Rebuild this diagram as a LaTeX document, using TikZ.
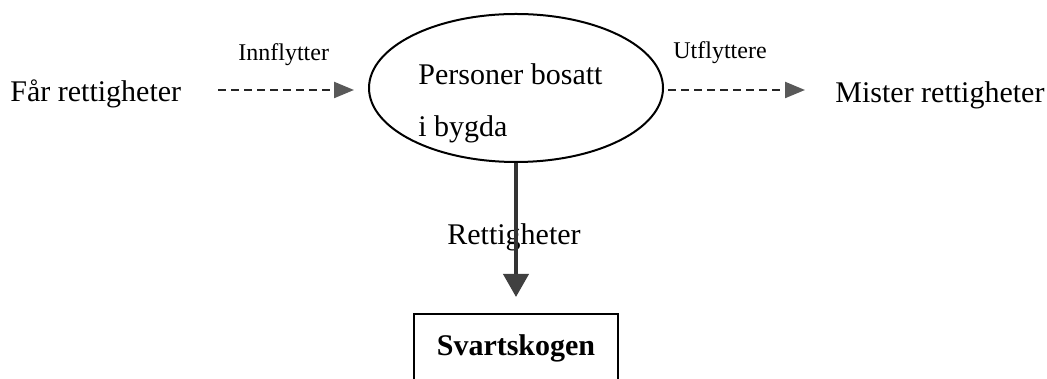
\documentclass[tikz,border=0pt]{standalone}
\usepackage{fontspec}
\setmainfont{Liberation Serif}
\usetikzlibrary{shapes.geometric,arrows.meta}

\begin{document}
\begin{tikzpicture}[x=0.5pt,y=0.5pt,
  txt/.style={font=\fontsize{15}{18}\selectfont,inner sep=0,anchor=base west},
  lbl/.style={font=\fontsize{12}{14}\selectfont,inner sep=0,anchor=base west},
  flow/.style={draw=black!85,line width=1.1pt,dash pattern=on 4pt off 2.5pt,
    -{Triangle[length=10pt,width=8pt,color=black!65]}}]
\clip (0,0) rectangle (1047,379);
% left side
\node[txt] (far) at (10,277) {Får rettigheter};
\node[lbl] (inn) at (238,318) {Innflytter};
\coordinate (innA) at (218,289);
\coordinate (innB) at (354,289);
\draw[flow] (innA) -- (innB);
% the ellipse
\node[draw,ellipse,line width=1pt,minimum width=147pt,minimum height=74pt,inner sep=0] (bygd) at (516,291) {};
\node[txt] (bygdA) at (418,294) {Personer bosatt};
\node[txt] (bygdB) at (418,242) {i bygda};
% right side
\node[lbl] (ut) at (673,320) {Utflyttere};
\coordinate (utA) at (668,289);
\coordinate (utB) at (805,289);
\draw[flow] (utA) -- (utB);
\node[txt] (mister) at (835,276) {Mister rettigheter};
% down to the box
\node[draw,line width=1pt,minimum width=102pt,minimum height=34pt,
  font=\bfseries\fontsize{15}{18}\selectfont] (skog) at (516,31) {Svartskogen};
\node[txt,anchor=base] (rett) at (514,134) {Rettigheter};
\draw[line width=2pt,draw=black!80,shorten >=8pt,
  -{Triangle[length=11.5pt,width=12.5pt,color=black!75]}] (bygd.south) -- (skog.north);
\end{tikzpicture}
\end{document}
